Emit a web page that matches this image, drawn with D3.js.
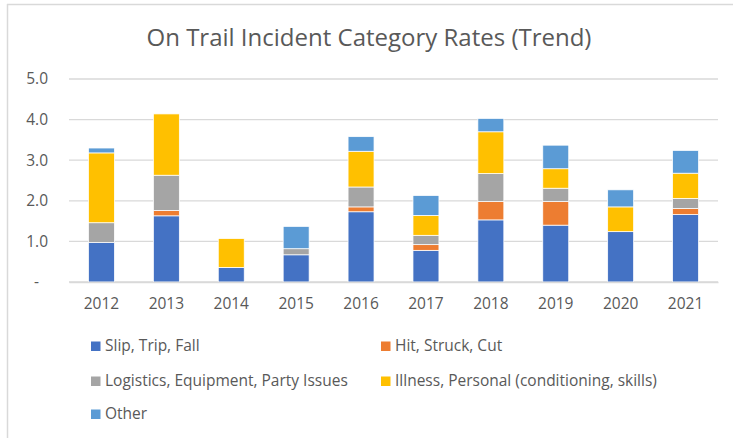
<!DOCTYPE html>
<html>
<head>
<meta charset="utf-8">
<script src="https://cdn.jsdelivr.net/npm/d3@7"></script>
<style>
  body { margin: 0; background: #fff; }
  svg { display: block; font-family: "Open Sans", sans-serif; }
  .grid line { stroke: #d9d9d9; stroke-width: 1.3; }
  .lbl { fill: #595959; }
</style>
</head>
<body>
<svg width="733" height="438"></svg>
<script>
// chart data
const years = ['2012', '2013', '2014', '2015', '2016', '2017', '2018', '2019', '2020', '2021'];
const categories = ['Slip, Trip, Fall', 'Hit, Struck, Cut', 'Logistics, Equipment, Party Issues',
                    'Illness, Personal (conditioning, skills)', 'Other'];
const slipTripFall = [0.97, 1.63, 0.36, 0.67, 1.73, 0.78, 1.53, 1.40, 1.24, 1.66];
const hitStruckCut = [0.00, 0.13, 0.00, 0.00, 0.12, 0.14, 0.45, 0.58, 0.00, 0.15];
const logistics    = [0.49, 0.87, 0.00, 0.15, 0.49, 0.23, 0.69, 0.33, 0.00, 0.25];
const illness      = [1.72, 1.51, 0.71, 0.00, 0.88, 0.49, 1.03, 0.48, 0.61, 0.62];
const other        = [0.12, 0.00, 0.00, 0.55, 0.36, 0.49, 0.33, 0.58, 0.42, 0.56];
const yTicks = [0, 1, 2, 3, 4, 5];
const colors = ['#4472c4', '#ed7d31', '#a5a5a5', '#ffc000', '#5b9bd5'];

const svg = d3.select('svg');

// build rows for the stack
const seriesVals = [slipTripFall, hitStruckCut, logistics, illness, other];
const rows = years.map((yr, i) => {
    const r = { year: yr };
    categories.forEach((c, k) => r[c] = seriesVals[k][i]);
    return r;
});
const stacked = d3.stack().keys(categories)(rows);

const x = d3.scaleBand()
    .domain(years)
    .range([69, 718])
    .paddingInner(0.6)
    .paddingOuter(0.3);

const y = d3.scaleLinear()
    .domain([0, 5])
    .range([282, 79]);

// outer frame (only top + left visible in the crop)
svg.append('line').attr('x1', 7).attr('x2', 733).attr('y1', 4.5).attr('y2', 4.5)
    .attr('stroke', '#d9d9d9').attr('stroke-width', 1.5);
svg.append('line').attr('x1', 7.5).attr('x2', 7.5).attr('y1', 4).attr('y2', 438)
    .attr('stroke', '#d9d9d9').attr('stroke-width', 1.5);

// title
svg.append('text')
    .attr('class', 'lbl')
    .attr('x', 369)
    .attr('y', 46)
    .attr('text-anchor', 'middle')
    .style('font-size', '24px')
    .text('On Trail Incident Category Rates (Trend)');

// gridlines
svg.append('g').attr('class', 'grid')
    .selectAll('line')
    .data(yTicks)
    .join('line')
    .attr('x1', 69).attr('x2', 718)
    .attr('y1', d => y(d)).attr('y2', d => y(d));

// y axis labels
const yAxis = svg.append('g')
    .attr('transform', 'translate(48,0)')
    .call(d3.axisLeft(y).tickValues(yTicks).tickSize(0).tickPadding(0)
        .tickFormat(d => d === 0 ? '-' : d3.format('.1f')(d)));
yAxis.select('.domain').remove();
yAxis.selectAll('text')
    .attr('class', 'lbl')
    .attr('fill', null)
    .style('font-size', '15.5px')
    .style('font-family', '"Open Sans", sans-serif')
    .attr('dx', d => d === 0 ? -9 : 0);

// bars
svg.append('g')
    .selectAll('g')
    .data(stacked)
    .join('g')
    .attr('fill', (d, i) => colors[i])
    .selectAll('rect')
    .data(d => d.filter(p => p[1] - p[0] > 0))
    .join('rect')
    .attr('x', d => x(d.data.year))
    .attr('width', x.bandwidth())
    .attr('y', d => y(d[1]))
    .attr('height', d => y(d[0]) - y(d[1]))
    .attr('stroke', '#fff')
    .attr('stroke-width', 0.75);

// x axis
const xAxis = svg.append('g')
    .attr('transform', 'translate(0,282)')
    .call(d3.axisBottom(x).tickSize(0).tickPadding(16));
xAxis.select('.domain')
    .attr('stroke', '#d9d9d9')
    .attr('stroke-width', 1.3);
xAxis.selectAll('text')
    .attr('class', 'lbl')
    .attr('fill', null)
    .style('font-size', '15.5px')
    .style('font-family', '"Open Sans", sans-serif');

// legend
const legendPos = [[91, 346], [381, 346], [91, 381], [381, 381], [91, 414]];
const legend = svg.append('g')
    .selectAll('g')
    .data(categories)
    .join('g')
    .attr('transform', (d, i) => `translate(${legendPos[i][0]},${legendPos[i][1]})`);
legend.append('rect')
    .attr('x', 0).attr('y', -4.5)
    .attr('width', 9.5).attr('height', 9.5)
    .attr('fill', (d, i) => colors[i]);
legend.append('text')
    .attr('class', 'lbl')
    .attr('x', 14)
    .attr('dy', '0.35em')
    .style('font-size', '15.5px')
    .text(d => d);
</script>
</body>
</html>
